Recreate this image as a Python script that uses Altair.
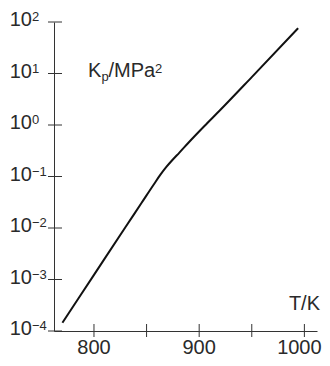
import altair as alt
import pandas as pd

# ---- data ----
T = [770, 800, 830, 845, 857, 863, 869, 875, 881, 890, 905, 920, 950, 994]
logK = [-3.84, -2.91, -1.98, -1.52, -1.15, -0.97, -0.81, -0.67, -0.54, -0.34, -0.02, 0.29, 0.93, 1.88]
y_tick_exps = [2, 1, 0, -1, -2, -3, -4]
x_ticks = [800, 850, 900, 950, 1000]
x_labels = [800, 900]
x_label_last = [1000]

W, H = 263, 309
TMIN, TMAX = 762, 1012

curve_df = pd.DataFrame({"T": T, "K": [10.0 ** v for v in logK]})
ytick_df = pd.DataFrame({
    "K": [10.0 ** e for e in y_tick_exps],
    "exp": [str(e).replace("-", "\u2212") for e in y_tick_exps],
    "base": ["10"] * len(y_tick_exps),
})
xtick_df = pd.DataFrame({"T": x_ticks})
xlab_df = pd.DataFrame({"T": x_labels, "lab": [str(v) for v in x_labels]})
xlab_last_df = pd.DataFrame({"T": x_label_last, "lab": [str(v) for v in x_label_last]})

FONT = "Liberation Sans"
TXT = "#2a2a2a"
AX = "#333"

xscale = alt.Scale(domain=[TMIN, TMAX], nice=False, zero=False)
yscale = alt.Scale(type="log", domain=[1e-4, 1e2], nice=False)
xaxis = alt.Axis(title=None, labels=False)
yaxis = alt.Axis(title=None, labels=False)

curve = alt.Chart(curve_df).mark_line(
    color="#111", strokeWidth=2, interpolate="monotone"
).encode(
    x=alt.X("T:Q", scale=xscale, axis=xaxis),
    y=alt.Y("K:Q", scale=yscale, axis=yaxis),
)

yticks = alt.Chart(ytick_df).mark_rule(color=AX, strokeWidth=1).encode(
    y=alt.Y("K:Q", scale=yscale, axis=yaxis),
    x=alt.value(-6),
    x2=alt.value(8),
)

xticks = alt.Chart(xtick_df).mark_rule(color=AX, strokeWidth=1).encode(
    x=alt.X("T:Q", scale=xscale, axis=xaxis),
    y=alt.value(H - 7),
    y2=alt.value(H + 6),
)

ybase = alt.Chart(ytick_df).mark_text(
    font=FONT, fontSize=20, color=TXT, align="right", baseline="alphabetic", dy=4.2
).encode(
    y=alt.Y("K:Q", scale=yscale, axis=yaxis),
    x=alt.value(-22),
    text="base:N",
)

yexp = alt.Chart(ytick_df).mark_text(
    font=FONT, fontSize=13, color=TXT, align="left", baseline="alphabetic", dy=-0.8
).encode(
    y=alt.Y("K:Q", scale=yscale, axis=yaxis),
    x=alt.value(-22),
    text="exp:N",
)

xlab = alt.Chart(xlab_df).mark_text(
    font=FONT, fontSize=20, color=TXT, align="center", baseline="alphabetic"
).encode(
    x=alt.X("T:Q", scale=xscale, axis=xaxis),
    y=alt.value(H + 22.5),
    text="lab:N",
)

xlab_last = alt.Chart(xlab_last_df).mark_text(
    font=FONT, fontSize=20, color=TXT, align="center", baseline="alphabetic", dx=-5
).encode(
    x=alt.X("T:Q", scale=xscale, axis=xaxis),
    y=alt.value(H + 22.5),
    text="lab:N",
)


def note(txt, x, y, size=20, align="left"):
    return alt.Chart(alt.Data(values=[{"t": txt}])).mark_text(
        font=FONT, fontSize=size, color=TXT, align=align, baseline="alphabetic"
    ).encode(x=alt.value(x), y=alt.value(y), text="t:N")


title_parts = [
    note("K", 34, 55),
    note("p", 47.5, 58.5, size=13),
    note("/MPa", 54.5, 55),
    note("2", 101, 51, size=13),
    note("T/K", 266, 288, align="right"),
]

chart = alt.layer(curve, yticks, xticks, ybase, yexp, xlab, xlab_last, *title_parts).properties(
    width=W,
    height=H,
    autosize=alt.AutoSizeParams(type="none"),
    padding={"left": 46, "top": 14, "right": 5, "bottom": 27},
).configure_view(stroke=None).configure_axis(
    grid=False,
    ticks=False,
    labels=False,
    domainColor=AX,
    domainWidth=1,
)

chart.save("out.html", embed_options={"renderer": "svg", "actions": False})
